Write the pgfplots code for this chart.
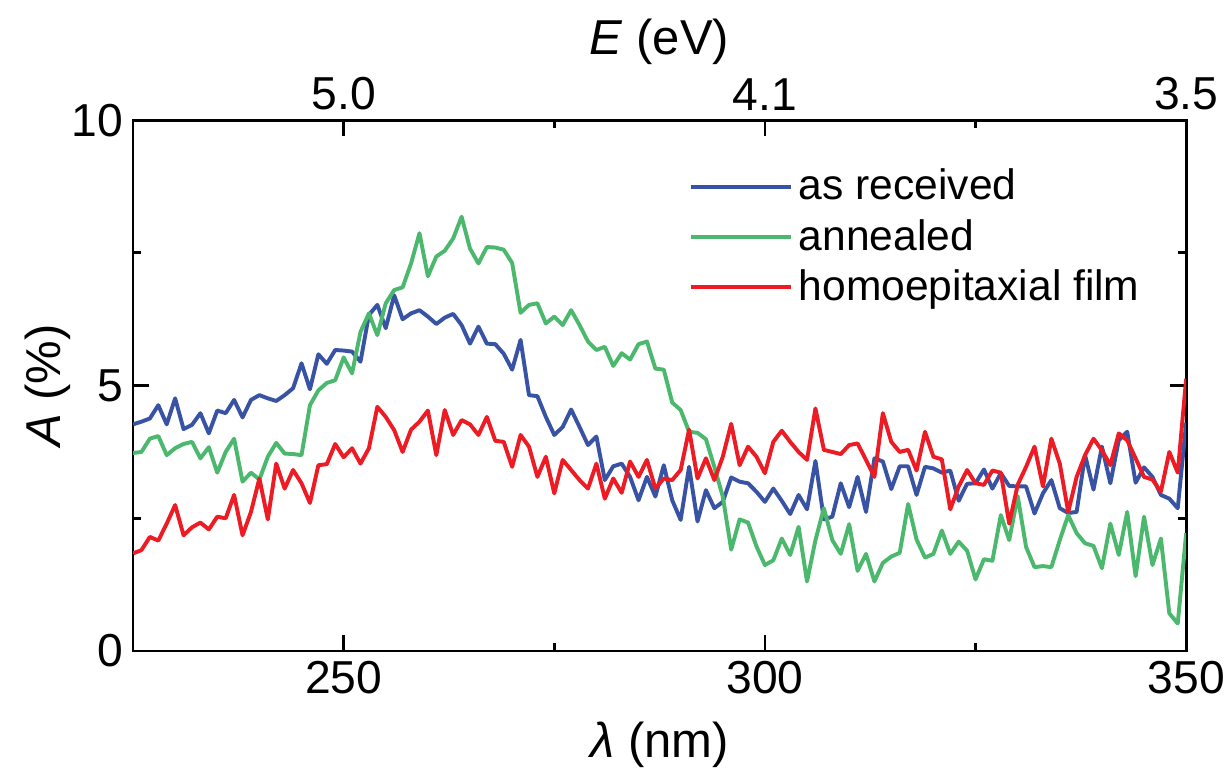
\documentclass[border=0pt]{standalone}
\usepackage{pgfplots}
\pgfplotsset{compat=1.18}
\usepackage{pgfplotstable}
\usepackage{fontspec}
\setmainfont{Liberation Sans}
\definecolor{cblue}{RGB}{57,83,164}
\definecolor{cgreen}{RGB}{76,184,110}
\definecolor{cred}{RGB}{237,28,36}

\pgfplotstableread{
nm asrec anneal homo
225 4.27 3.73 1.84
226 4.32 3.75 1.90
227 4.38 4.00 2.15
228 4.63 4.05 2.08
229 4.27 3.69 2.40
230 4.76 3.82 2.75
231 4.18 3.90 2.18
232 4.26 3.94 2.33
233 4.48 3.63 2.42
234 4.10 3.84 2.29
235 4.53 3.36 2.53
236 4.48 3.75 2.50
237 4.73 4.00 2.94
238 4.40 3.19 2.18
239 4.73 3.36 2.62
240 4.82 3.23 3.25
241 4.76 3.66 2.48
242 4.71 3.92 3.53
243 4.82 3.72 3.06
244 4.95 3.71 3.41
245 5.42 3.69 3.16
246 4.93 4.63 2.79
247 5.59 4.91 3.50
248 5.41 5.05 3.52
249 5.67 5.10 3.90
250 5.66 5.53 3.65
251 5.64 5.23 3.82
252 5.45 6.01 3.53
253 6.33 6.36 3.82
254 6.52 5.95 4.60
255 6.08 6.55 4.41
256 6.70 6.80 4.16
257 6.25 6.85 3.75
258 6.36 7.30 4.17
259 6.42 7.87 4.32
260 6.30 7.06 4.53
261 6.16 7.43 3.69
262 6.28 7.54 4.54
263 6.35 7.77 4.07
264 6.14 8.18 4.35
265 5.79 7.58 4.27
266 6.11 7.30 4.07
267 5.79 7.61 4.41
268 5.78 7.60 3.96
269 5.60 7.56 3.94
270 5.30 7.31 3.47
271 5.86 6.37 4.07
272 4.82 6.52 3.85
273 4.80 6.55 3.28
274 4.41 6.17 3.66
275 4.07 6.30 2.97
276 4.22 6.14 3.60
277 4.55 6.42 3.41
278 4.22 6.14 3.22
279 3.88 5.83 3.06
280 4.04 5.67 3.53
281 3.22 5.73 2.87
282 3.48 5.37 3.25
283 3.53 5.61 2.98
284 3.28 5.49 3.57
285 2.84 5.78 3.28
286 3.28 5.83 3.60
287 2.91 5.32 3.06
288 3.50 5.30 3.25
289 2.84 4.68 3.22
290 2.47 4.54 3.41
291 3.47 4.13 4.17
292 2.44 4.11 3.25
293 3.03 3.99 3.63
294 2.69 3.47 3.22
295 2.81 2.91 3.66
296 3.27 1.91 4.28
297 3.19 2.48 3.50
298 3.16 2.42 3.85
299 3.00 1.97 3.66
300 2.81 1.62 3.35
301 3.06 1.71 3.94
302 2.83 2.12 4.15
303 2.58 1.81 3.94
304 2.94 2.34 3.75
305 2.67 1.31 3.60
306 3.58 2.09 4.57
307 2.48 2.69 3.79
308 2.53 2.09 3.75
309 3.16 1.83 3.71
310 2.71 2.39 3.88
311 3.28 1.51 3.91
312 2.62 1.83 3.60
313 3.63 1.31 3.28
314 3.57 1.66 4.48
315 3.05 1.78 3.94
316 3.48 1.85 3.75
317 3.48 2.77 3.79
318 2.94 2.10 3.40
319 3.47 1.76 4.13
320 3.44 1.83 3.66
321 3.36 2.27 3.61
322 3.40 1.83 2.67
323 2.83 2.06 3.10
324 3.15 1.89 3.41
325 3.16 1.35 3.16
326 3.42 1.73 3.13
327 3.06 1.70 3.40
328 3.35 2.56 3.36
329 3.11 2.09 2.40
330 3.10 2.92 3.13
331 3.10 1.96 3.47
332 2.59 1.58 3.85
333 2.97 1.60 3.10
334 3.22 1.58 4.00
335 2.69 2.09 3.53
336 2.60 2.56 2.62
337 2.62 2.22 3.28
338 3.69 2.03 3.69
339 3.04 1.98 4.00
340 3.85 1.56 3.78
341 3.16 2.40 3.50
342 3.97 1.81 4.10
343 4.13 2.62 3.97
344 3.17 1.41 3.63
345 3.46 2.53 3.28
346 3.28 1.62 3.23
347 2.94 2.12 3.00
348 2.87 0.71 3.75
349 2.69 0.52 3.36
350 4.30 2.22 5.13
}\datatable

\pgfplotsset{
  commonaxis/.style={
    scale only axis, width=376.1pt, height=189.6pt,
    xmin=225, xmax=350, ymin=0, ymax=10,
    /pgf/number format/assume math mode=true,
    tick label style={font=\fontsize{16.5}{19}\selectfont},
    label style={font=\fontsize{17.5}{21}\selectfont},
    axis line style={line width=1pt},
  }
}

\begin{document}
\begin{tikzpicture}
\path[use as bounding box] (-47.5pt,-43.2pt) rectangle (391.4pt,232.5pt);
\begin{axis}[commonaxis,
  xtick={250,300,350}, minor xtick={275,325},
  ytick={0,5,10}, minor ytick={2.5,7.5},
  tick align=inside, xtick pos=both, ytick pos=both,
  xticklabel pos=lower, yticklabel pos=left,
  major tick length=5.7pt, minor tick length=2.9pt,
  every tick/.style={black, line width=1pt},
  xlabel={\textit{λ} (nm)},
  ylabel={\textit{A} (\%)},
  xlabel style={at={(axis description cs:0.5,-0.177)}, anchor=center},
  ylabel style={at={(axis description cs:-0.081,0.5)}, anchor=center},
  legend cell align=left,
  legend image code/.code={\draw[#1] (0pt,0pt) -- (36pt,0pt);},
  legend style={at={(0.519,0.93)}, anchor=north west, draw=none, fill=none,
    font=\fontsize{15.2}{18}\selectfont, row sep=1.5pt,
    nodes={inner sep=2pt}},
]
\addplot[cblue, line width=1.4pt, line join=round] table[x=nm, y=asrec] {\datatable};
\addlegendentry{as received}
\addplot[cgreen, line width=1.4pt, line join=round] table[x=nm, y=anneal] {\datatable};
\addlegendentry{annealed}
\addplot[cred, line width=1.4pt, line join=round] table[x=nm, y=homo] {\datatable};
\addlegendentry{homoepitaxial film}
\end{axis}
\begin{axis}[commonaxis,
  axis x line*=top, hide y axis,
  xtick={250,300,350}, xticklabels={5.0,4.1,3.5},
  major tick length=0pt,
  xlabel={\textit{E} (eV)},
  xlabel style={at={(axis description cs:0.5,1.147)}, anchor=center},
]
\end{axis}
\end{tikzpicture}
\end{document}
